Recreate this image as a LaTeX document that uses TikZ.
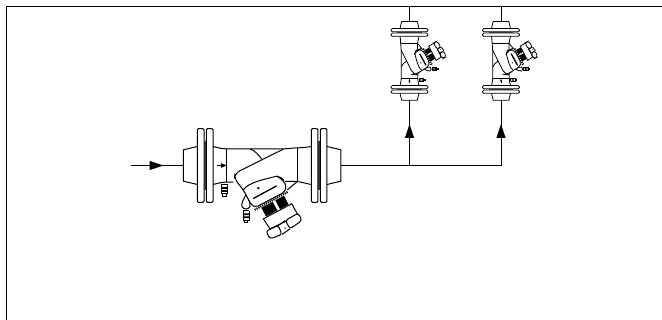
\documentclass[tikz,border=0pt]{standalone}
\usetikzlibrary{arrows.meta}
\tikzset{
  pipe/.style = {line width=.75pt, black},
  frameline/.style = {line width=.75pt, black},
  flow/.style = {pipe, -{Triangle[length=10.5pt, width=6.75pt]}},
  flange/.style = {draw, rounded corners=1pt},
  gasket/.style = {fill=black!80},
  bleed/.pic = {
    \draw (-10,-2) -- (10,-2) (-9,-2) -- (-9,26) -- (9,26) -- (9,-2);
    \fill (-9,6) rectangle (9,11) (-9,15) rectangle (9,20);
    \draw (-5,26) -- (-5,34) -- (5,34) -- (5,26);
  },
  valve/.pic = {
    \begin{scope}[scale=.3333, shift={(-426,-165)}]
      \coordinate (-in) at (190,165);
      \coordinate (-out) at (663,165);
      \draw (232,108) -- (190,118) -- (190,212) -- (232,222);
      \draw (621,108) -- (663,118) -- (663,212) -- (621,222);
      \foreach \xpos in {232,259,574,601}
        \draw[flange] (\xpos,54) rectangle ++(20,222);
      \foreach \xpos in {252,594}
        \fill[gasket] (\xpos,92) rectangle ++(7,146);
      \draw (279,108) .. controls (295,112) and (305,115) .. (320,115) -- (490,115)
        .. controls (510,115) and (520,112) .. (532,112) .. controls (548,112) and (560,110) .. (574,108);
      \draw (279,222) .. controls (295,218) and (305,215) .. (320,215) -- (340,215);
      \draw (574,222) .. controls (560,220) and (548,215) .. (532,213) -- (495,213);
      \draw (320,115) -- (320,215) (532,112) -- (532,213);
      \draw (390,115) .. controls (405,120) and (418,135) .. (428,150);
      \pic[transform shape] at (313,224) {bleed};
      \pic[transform shape] at (378,303) {bleed};
      \draw[fill=white] (378,252) .. controls (372,265) and (362,280) .. (366,288)
        .. controls (370,298) and (386,298) .. (390,288) .. controls (392,280) and (385,265) .. (378,252);
      \draw[fill=white, rounded corners=4pt] (490,116) -- (345,188) -- (343,205) -- (370,238)
        -- (400,294) -- (502,240) -- (492,210) -- (470,197);
      \draw (370,238) .. controls (385,215) and (440,205) .. (470,197)
        .. controls (480,197) and (488,205) .. (492,210);
      \draw (502,238) -- (532,213);
      \draw[line width=1pt] (400,264) -- (470,226);
      \fill (415,233) circle (4);
      \draw[line width=1.6pt, dash pattern=on .9pt off .7pt] (404,298) -- (504,244);
      \draw[fill=white] (430,325) -- (515,280) -- (535,315) -- (450,355) -- cycle;
      \fill (424,292) -- (458,274) -- (472,300) -- (438,318) -- cycle;
      \fill (466,270) -- (492,256) -- (506,282) -- (480,296) -- cycle;
      \draw[fill=white, rounded corners=2pt] (438,362) -- (475,345) -- (486,372) -- (450,385) -- cycle;
      \draw[fill=white, rounded corners=2pt] (496,330) -- (535,308) -- (546,330) -- (510,355) -- cycle;
      \draw (475,345) -- (496,330) (486,372) -- (510,355);
      \fill (495,353) circle (2.5);
      \fill (292,163) rectangle (305,167);
      \fill (303,158) -- (320,165) -- (303,172) -- cycle;
    \end{scope}
  },
}

\begin{document}
\begin{tikzpicture}[x=.75pt, y=-.75pt]
  \useasboundingbox (0,0) rectangle (662,320);

  \coordinate (corner) at (6,7);
  \coordinate (frameend) at (662,7);
  \coordinate (framefoot) at (6,320);
  \coordinate (start) at (131,165.5);
  \coordinate (starttip) at (163.5,165.5);
  \coordinate (topleft) at (409.5,7);
  \coordinate (topright) at (501,7);
  \coordinate (teeleft) at (409.5,165.5);
  \coordinate (teeright) at (501,165.5);
  \coordinate (tipleft) at (409.5,124);
  \coordinate (tipright) at (501,124);

  \pic[line width=.75pt] (main) at (262,165.5) {valve};
  \pic[scale=.5, rotate=90, line width=.6pt] (left) at (409.5,61) {valve};
  \pic[scale=.5, rotate=90, line width=.6pt] (right) at (501,61) {valve};

  \draw[frameline] (framefoot) -- (corner) -- (frameend);
  \draw[pipe] (start) -- (main-in);
  \draw[flow] (start) -- (starttip);
  \draw[pipe] (main-out) -- (teeright) -- (right-in);
  \draw[pipe] (teeleft) -- (left-in);
  \draw[flow] (teeleft) -- (tipleft);
  \draw[flow] (teeright) -- (tipright);
  \draw[pipe] (left-out) -- (topleft);
  \draw[pipe] (right-out) -- (topright);
\end{tikzpicture}
\end{document}
